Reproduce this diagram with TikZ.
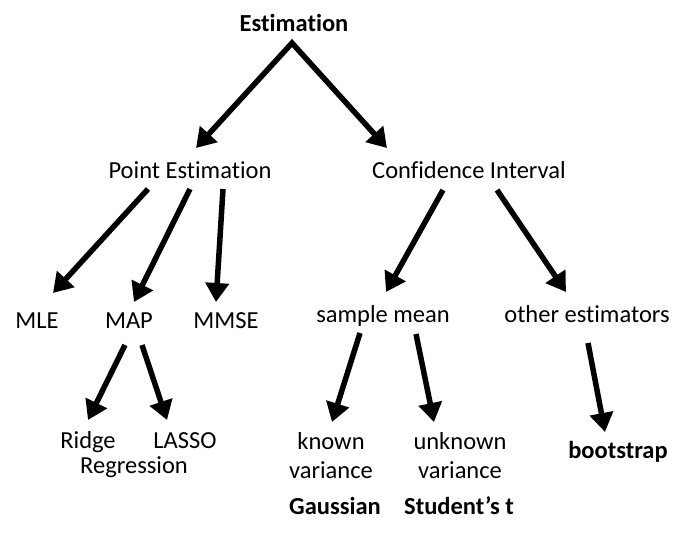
\documentclass[tikz,border=0pt]{standalone}
\usepackage{fontspec}
\setmainfont{Carlito}[RawFeature=-liga]
\usetikzlibrary{arrows.meta}
\begin{document}
\begin{tikzpicture}[x=1pt,y=-1pt,
  lbl/.style={inner sep=0pt,anchor=base,font=\fontsize{24.5}{29}\selectfont},
  blbl/.style={lbl,font=\fontsize{24.5}{29}\selectfont\bfseries},
  arr/.style={line width=5.5pt,line join=miter,-{Triangle[length=19pt,width=23pt]}}]
\useasboundingbox (0,0) rectangle (696,536);
% labels
\node[blbl] (est) at (294,31) {Estimation};
\node[lbl] (pe) at (190,178) {Point Estimation};
\node[lbl] (ci) at (469,178) {Confidence Interval};
\node[lbl] (mle) at (37,328) {MLE};
\node[lbl] (map) at (129,328) {MAP};
\node[lbl] (mmse) at (226,328) {MMSE};
\node[lbl] (sm) at (383,322) {sample mean};
\node[lbl] (oe) at (587,322) {other estimators};
\node[lbl] (ridge) at (88,448) {Ridge};
\node[lbl] (regr) at (134,473) {Regression};
\node[lbl] (lasso) at (185,448) {LASSO};
\node[lbl] (kv1) at (331,449) {known};
\node[lbl] (kv2) at (331,478) {variance};
\node[lbl] (uv1) at (460,449) {unknown};
\node[lbl] (uv2) at (460,478) {variance};
\node[blbl] (gauss) at (335,514) {Gaussian};
\node[blbl] (stud) at (459,514) {Student’s t};
\node[blbl] (boot) at (618,458) {bootstrap};
% connector end points
\coordinate (apex) at (292,43);
\coordinate (peTip) at (196,148);
\coordinate (ciTip) at (387,148);
\coordinate (peA) at (148,189);
\coordinate (peB) at (190,189);
\coordinate (peC) at (223,189);
\coordinate (mleTip) at (53,293);
\coordinate (mapTip) at (134,302);
\coordinate (mmseTip) at (216,302);
\coordinate (ciA) at (443,190);
\coordinate (ciB) at (497,190);
\coordinate (smTip) at (386,292);
\coordinate (oeTip) at (566,292);
\coordinate (mapA) at (125,345);
\coordinate (mapB) at (142,345);
\coordinate (ridgeTip) at (88,420);
\coordinate (lassoTip) at (167,420);
\coordinate (smA) at (360,333);
\coordinate (smB) at (416,334);
\coordinate (kvTip) at (332,422);
\coordinate (uvTip) at (434,422);
\coordinate (oeA) at (588,343);
\coordinate (bootTip) at (605,432);
% connectors
\draw[line width=5.5pt,line join=miter,{Triangle[length=19pt,width=23pt]}-{Triangle[length=19pt,width=23pt]}] (peTip) -- (apex) -- (ciTip);
\draw[arr] (peA) -- (mleTip);
\draw[arr] (peB) -- (mapTip);
\draw[arr] (peC) -- (mmseTip);
\draw[arr] (ciA) -- (smTip);
\draw[arr] (ciB) -- (oeTip);
\draw[arr] (mapA) -- (ridgeTip);
\draw[arr] (mapB) -- (lassoTip);
\draw[arr] (smA) -- (kvTip);
\draw[arr] (smB) -- (uvTip);
\draw[arr] (oeA) -- (bootTip);
\end{tikzpicture}
\end{document}
